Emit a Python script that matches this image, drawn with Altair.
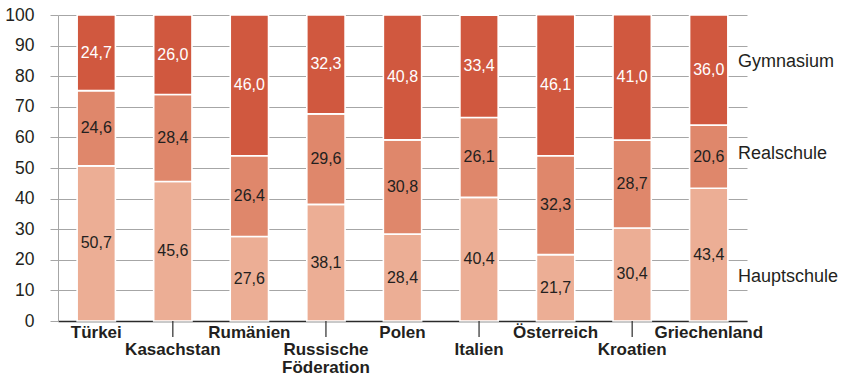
import altair as alt
import pandas as pd

# Schulart-Verteilung je Herkunftsland (Prozent)
countries = ["Türkei", "Kasachstan", "Rumänien", "Russische Föderation", "Polen",
             "Italien", "Österreich", "Kroatien", "Griechenland"]
axis_labels = ["Türkei", "Kasachstan", "Rumänien", "Russische\nFöderation", "Polen",
               "Italien", "Österreich", "Kroatien", "Griechenland"]
label_row = [1, 2, 1, 2, 1, 2, 1, 2, 1]

hauptschule = [50.7, 45.6, 27.6, 38.1, 28.4, 40.4, 21.7, 30.4, 43.4]
realschule = [24.6, 28.4, 26.4, 29.6, 30.8, 26.1, 32.3, 28.7, 20.6]
gymnasium = [24.7, 26.0, 46.0, 32.3, 40.8, 33.4, 46.1, 41.0, 36.0]

series = ["Hauptschule", "Realschule", "Gymnasium"]
colors = ["#ECAE95", "#DF876B", "#D0583F"]

FONT = "Liberation Sans"
TEXT = "#231F20"
W, H = 689, 306

rows = []
for i, c in enumerate(countries):
    base = 0.0
    for s, vals in zip(series, [hauptschule, realschule, gymnasium]):
        v = vals[i]
        rows.append({"land": c, "schulart": s, "wert": v, "y0": base, "y1": base + v,
                     "mitte": base + v / 2, "text": f"{v:.1f}".replace(".", ",")})
        base += v
df = pd.DataFrame(rows)

labels_df = pd.DataFrame({"land": countries, "beschriftung": axis_labels, "zeile": label_row})

xscale = alt.Scale(domain=countries, paddingInner=0.5, paddingOuter=0.25)
x_axis = alt.Axis(labels=False, ticks=False, title=None, domainColor="#2b2b2b",
                  domainWidth=1.6)
y_axis = alt.Axis(values=list(range(0, 101, 10)), title=None, grid=True,
                  labelOverlap=False, gridColor="#a6a6a6", gridWidth=1,
                  domainColor="#a6a6a6", tickColor="#a6a6a6", tickSize=8,
                  labelPadding=16, labelFont=FONT, labelFontSize=17.5, labelColor=TEXT)
x_enc = alt.X("land:N", scale=xscale, sort=countries, axis=x_axis)
yscale = alt.Scale(domain=[0, 100], nice=False)

bars = alt.Chart(df).mark_bar(stroke="white", strokeWidth=1.6).encode(
    x=x_enc,
    y=alt.Y("y0:Q", scale=yscale, axis=y_axis),
    y2="y1:Q",
    color=alt.Color("schulart:N", scale=alt.Scale(domain=series, range=colors), legend=None),
)

# Werte in den Segmenten: weiß auf dem dunkelsten Segment, sonst dunkel
values = alt.Chart(df).mark_text(font=FONT, fontSize=16, baseline="middle").encode(
    x=x_enc,
    y=alt.Y("mitte:Q", scale=yscale, axis=y_axis),
    text="text:N",
    fill=alt.condition("datum.schulart == 'Gymnasium'", alt.value("#FFFFFF"), alt.value(TEXT)),
)

row1 = alt.Chart(labels_df).transform_filter("datum.zeile == 1").mark_text(
    font=FONT, fontSize=17, fontWeight="bold", color=TEXT, baseline="alphabetic"
).encode(x=x_enc, y=alt.value(H + 17), text="beschriftung:N")

row2 = alt.Chart(labels_df).transform_filter("datum.zeile == 2").mark_text(
    font=FONT, fontSize=17, fontWeight="bold", color=TEXT, baseline="alphabetic",
    lineBreak="\n", lineHeight=18
).encode(x=x_enc, y=alt.value(H + 34), text="beschriftung:N")

ticks = alt.Chart(labels_df).transform_filter("datum.zeile == 2").mark_rule(
    color="#2b2b2b", strokeWidth=1.2
).encode(x=x_enc, y=alt.value(H), y2=alt.value(H + 16))

legend_df = pd.DataFrame({"schulart": ["Gymnasium", "Realschule", "Hauptschule"]})
legend_pos = {"Gymnasium": 47, "Realschule": 139, "Hauptschule": 262}
legend = alt.layer(*[
    alt.Chart(legend_df).transform_filter(f"datum.schulart == '{s}'").mark_text(
        font=FONT, fontSize=18, color=TEXT, align="left", baseline="middle"
    ).encode(x=alt.value(680), y=alt.value(py), text="schulart:N")
    for s, py in legend_pos.items()
])

chart = alt.layer(bars, values, row1, row2, ticks, legend).properties(
    width=W, height=H,
    autosize=alt.AutoSizeParams(type="none"),
    padding={"left": 58, "top": 15, "right": 98, "bottom": 56},
).configure(background="white", view=alt.ViewConfig(stroke=None))

chart.save("out.html", embed_options={"renderer": "svg", "actions": False})
